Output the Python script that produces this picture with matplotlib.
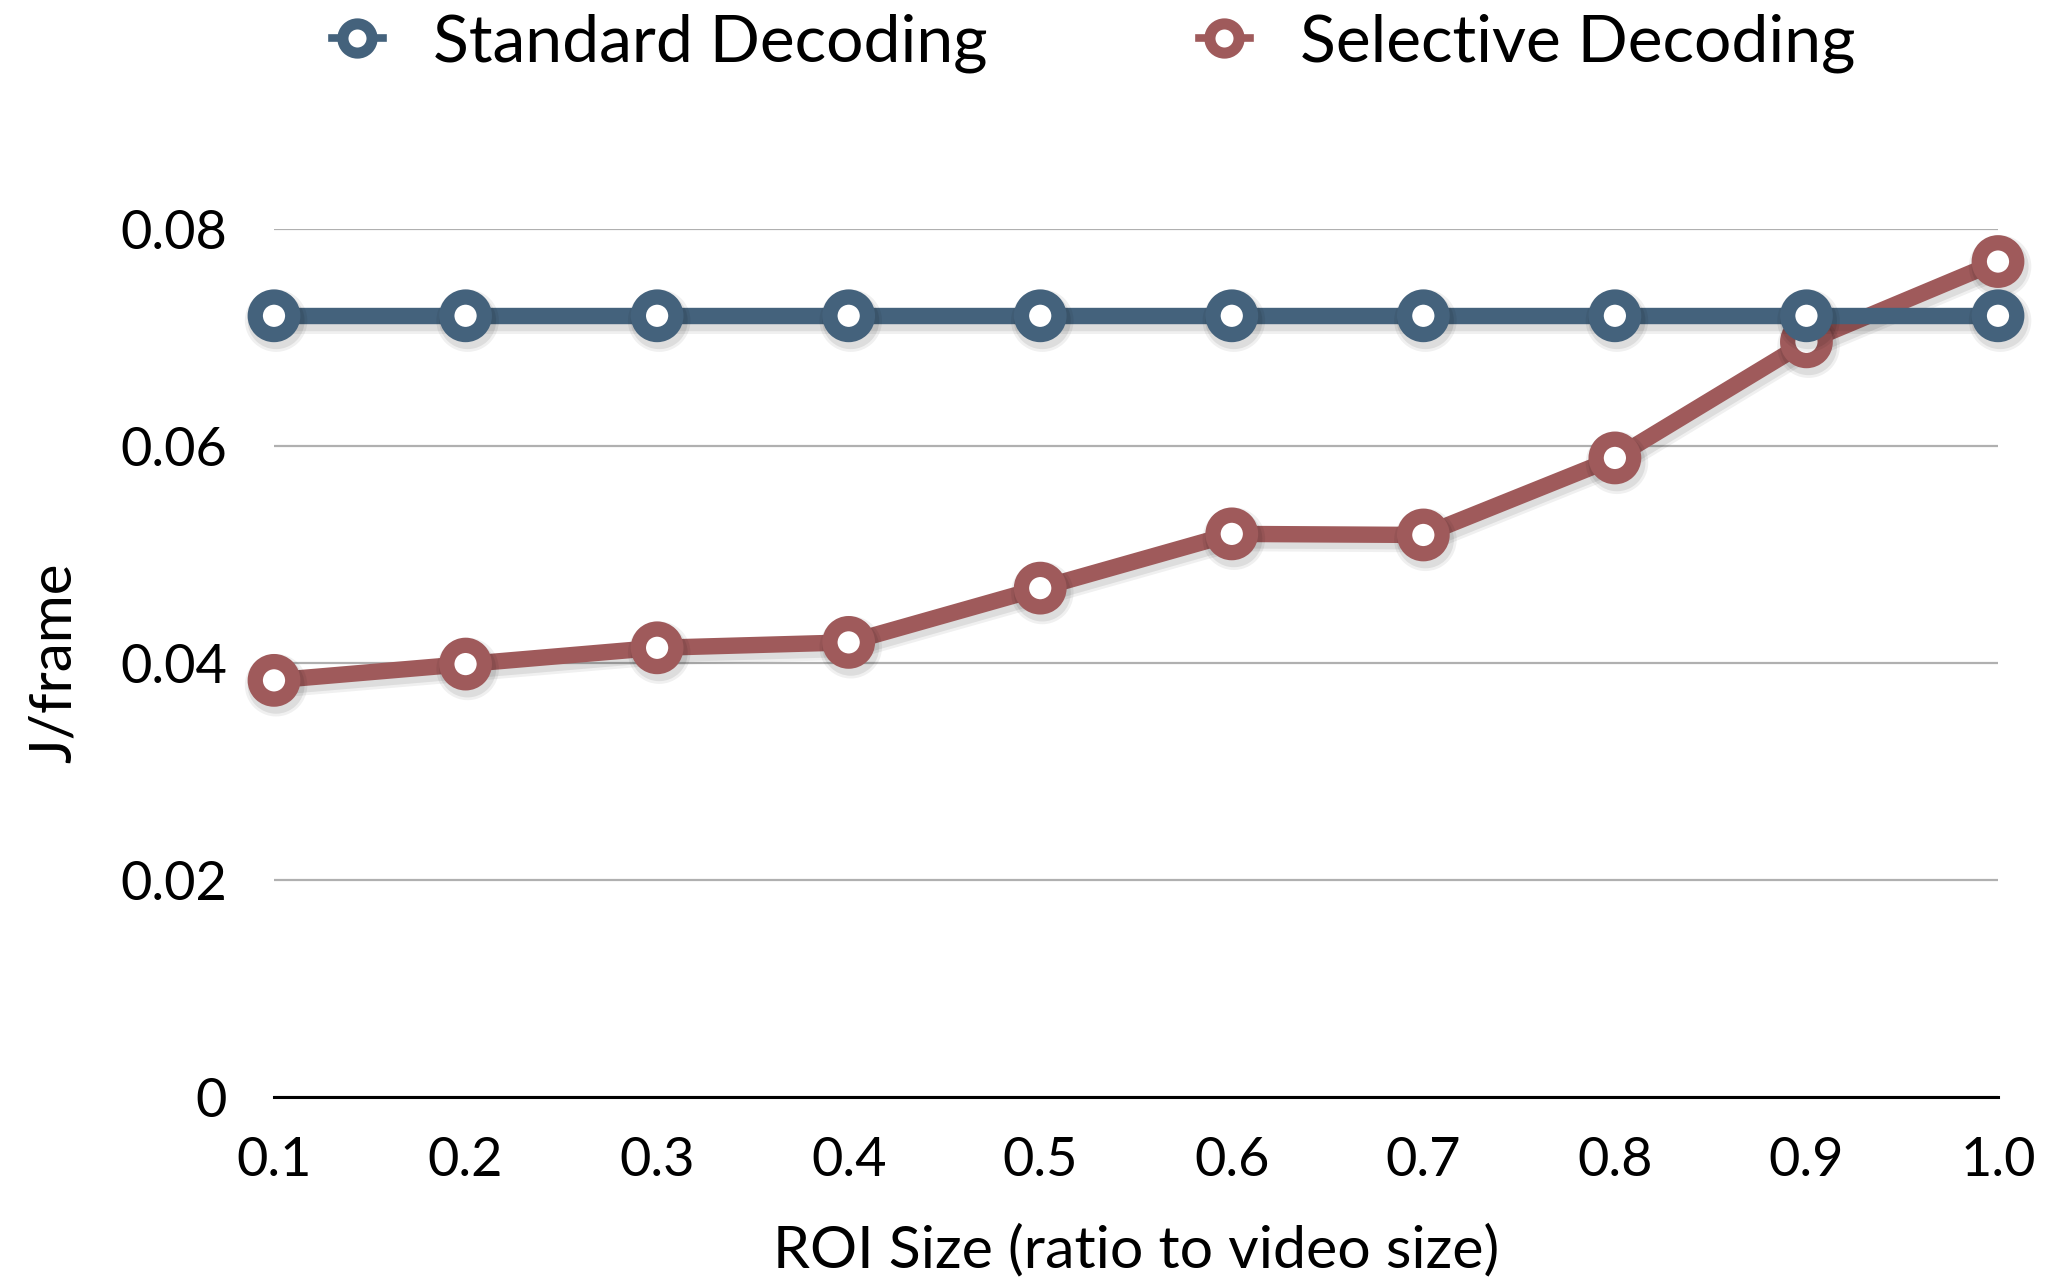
import matplotlib
matplotlib.use("Agg")
import matplotlib.pyplot as plt
import matplotlib.patheffects as pe
from matplotlib.lines import Line2D

roi_size = [0.1, 0.2, 0.3, 0.4, 0.5, 0.6, 0.7, 0.8, 0.9, 1.0]
x_labels = ["0.1", "0.2", "0.3", "0.4", "0.5", "0.6", "0.7", "0.8", "0.9", "1.0"]
standard = [0.072, 0.072, 0.072, 0.072, 0.072, 0.072, 0.072, 0.072, 0.072, 0.072]
selective = [0.0384, 0.0399, 0.0414, 0.0419, 0.0469, 0.0519, 0.0518, 0.0589, 0.0696, 0.0770]
y_ticks = [0, 0.02, 0.04, 0.06, 0.08]
y_labels = ["0", "0.02", "0.04", "0.06", "0.08"]

BLUE = "#44627C"
RED = "#9F5A5B"

plt.rcParams['font.family'] = ['Lato', 'DejaVu Sans']

fig = plt.figure(figsize=(20.48, 12.84), dpi=100)
ax = fig.add_axes([274/2048, 1 - 1097/1284, (1998-274)/2048, (1097-229)/1284])

shadow = [pe.SimpleLineShadow(offset=(1.5, -3.5), shadow_color='black', alpha=0.06, linewidth=18),
          pe.SimpleLineShadow(offset=(1.5, -3.5), shadow_color='black', alpha=0.08, linewidth=14),
          pe.Normal()]

for ys, col, lab, z in [(standard, BLUE, "Standard Decoding", 4), (selective, RED, "Selective Decoding", 3)]:
    ax.plot(roi_size, ys, color=col, lw=11.8, marker='o', markersize=27,
            markerfacecolor='white', markeredgecolor=col, markeredgewidth=11,
            clip_on=False, zorder=z, path_effects=shadow, label=lab)

ax.set_xlim(0.1, 1.0)
ax.set_ylim(0, 0.08)
ax.set_xticks(roi_size)
ax.set_xticklabels(x_labels)
ax.set_yticks(y_ticks)
ax.set_yticklabels(y_labels)
ax.tick_params(axis='both', length=0, labelsize=39)
ax.tick_params(axis='x', pad=28)
ax.tick_params(axis='y', pad=34)
for s in ['top', 'right', 'left']:
    ax.spines[s].set_visible(False)
ax.spines['bottom'].set_color('black')
ax.spines['bottom'].set_linewidth(2.2)
ax.yaxis.grid(True, color='#B0B0B0', lw=1.6)
ax.set_axisbelow(True)

ax.set_xlabel("ROI Size (ratio to video size)", fontsize=42.5, labelpad=28)
ax.set_ylabel("J/frame", fontsize=42, labelpad=28)

handles = [Line2D([], [], color=BLUE, lw=5.5, marker='o', markersize=21,
                  markerfacecolor='white', markeredgecolor=BLUE, markeredgewidth=8),
           Line2D([], [], color=RED, lw=5.5, marker='o', markersize=21,
                  markerfacecolor='white', markeredgecolor=RED, markeredgewidth=8)]
fig.legend(handles, ["Standard Decoding", "Selective Decoding"], loc='center',
           bbox_to_anchor=(0.534, 1 - 43/1284), ncol=2, frameon=False, fontsize=47.5,
           handlelength=0.78, handletextpad=0.76, columnspacing=3.2)

fig.savefig("out.png", dpi=100)
